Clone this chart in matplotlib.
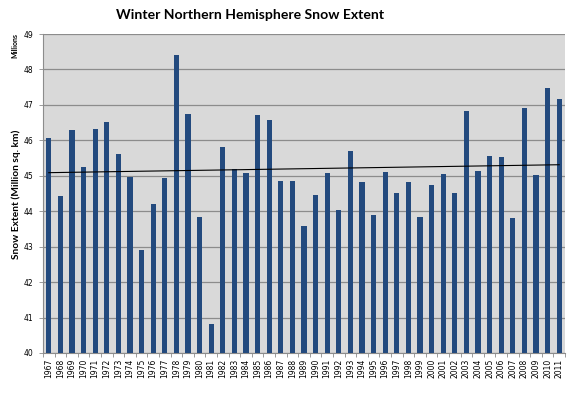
import numpy as np
import matplotlib
matplotlib.use("Agg")
import matplotlib.pyplot as plt

years = list(range(1967, 2012))
year_labels = [str(y) for y in years]
snow_extent = [46.07, 44.44, 46.29, 45.25, 46.31, 46.51, 45.62, 44.96, 42.90, 44.19,
               44.95, 48.41, 46.73, 43.84, 40.82, 45.80, 45.18, 45.08, 46.72, 46.58,
               44.86, 44.85, 43.58, 44.46, 45.08, 44.03, 45.71, 44.83, 43.88, 45.10,
               44.51, 44.83, 43.85, 44.75, 45.06, 44.52, 46.83, 45.13, 45.55, 45.52,
               43.81, 46.91, 45.02, 47.49, 47.18]
y_ticks = [40, 41, 42, 43, 44, 45, 46, 47, 48, 49]

W, H = 575, 394
fig = plt.figure(figsize=(W / 100, H / 100), dpi=100)
ax = fig.add_axes([43 / W, 1 - 353 / H, (565 - 43) / W, (353 - 34) / H])
ax.set_facecolor("#d9d9d9")

x = np.arange(len(years))
ax.bar(x, snow_extent, width=0.45, color="#234a7e", zorder=3)

coef = np.polyfit(x, snow_extent, 1)
ax.plot([x[0], x[-1]], np.polyval(coef, [x[0], x[-1]]), color="black", lw=0.8, zorder=4)

ax.set_ylim(40, 49)
ax.set_xlim(-0.5, len(years) - 0.5)
ax.set_yticks(y_ticks)
ax.set_yticklabels([str(v) for v in y_ticks], fontsize=5.5, family="DejaVu Sans")
ax.yaxis.grid(True, color="#8c8c8c", lw=0.9, zorder=1)
ax.tick_params(axis="y", length=3, width=0.6, color="#8c8c8c", pad=4)

ax.set_xticks(x)
ax.set_xticklabels(year_labels, rotation=90, fontsize=5.5, family="DejaVu Sans")
ax.set_xticks(np.arange(-0.5, len(years), 1), minor=True)
ax.tick_params(axis="x", which="major", length=0, pad=4)
ax.tick_params(axis="x", which="minor", length=3, width=0.6, color="#8c8c8c")

for s in ["top", "right"]:
    ax.spines[s].set_visible(False)
for s in ["left", "bottom"]:
    ax.spines[s].set_color("#8c8c8c")
    ax.spines[s].set_linewidth(0.8)

fig.text(250 / W, 1 - 15 / H, "Winter Northern Hemisphere Snow Extent", ha="center", va="center",
         fontsize=10.1, fontweight="bold", family="Lato")
fig.text(16 / W, 1 - 194 / H, "Snow Extent (Million sq. km)", rotation=90, ha="center", va="center",
         fontsize=7.3, fontweight="bold", family="Lato")
fig.text(15 / W, 1 - 46 / H, "Millions", rotation=90, ha="center", va="center",
         fontsize=5, fontweight="bold", family="Lato")

fig.savefig("out.png", dpi=100)
